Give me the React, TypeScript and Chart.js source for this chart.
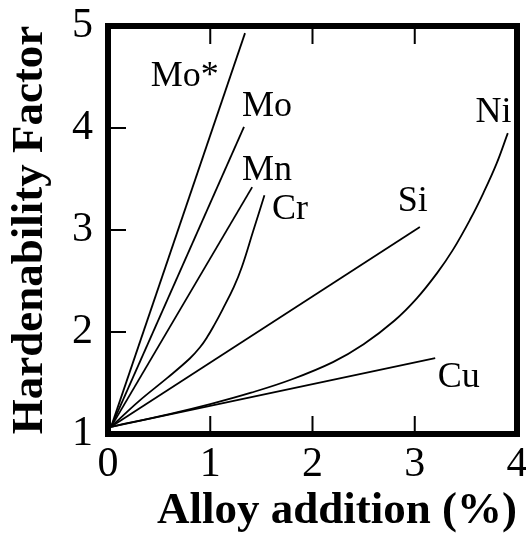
import { useEffect, useRef } from "react";
import { Chart, registerables } from "chart.js";

Chart.register(...registerables);

// Axis ticks
const xTicks = [0, 1, 2, 3, 4];
const xTickLabels = ["0", "1", "2", "3", "4"];
const yTicks = [1, 2, 3, 4, 5];
const yTickLabels = ["1", "2", "3", "4", "5"];

// Series (alloy addition %, hardenability factor)
const moStarX = [0.03, 1.34];
const moStarY = [1.07, 4.93];
const moX = [0.03, 1.33];
const moY = [1.07, 4.01];
const mnX = [0.03, 1.41];
const mnY = [1.07, 3.42];
const crX = [0.03, 0.3, 0.58, 0.8, 0.9, 0.97, 1.04, 1.12, 1.23, 1.31, 1.42, 1.53];
const crY = [1.07, 1.32, 1.55, 1.74, 1.85, 1.95, 2.07, 2.22, 2.44, 2.64, 2.99, 3.34];
const siX = [0.03, 3.05];
const siY = [1.07, 3.03];
const niX = [0.03, 0.6, 1.0, 1.4, 1.8, 2.2, 2.5, 2.8, 3.02, 3.22, 3.37, 3.54, 3.67, 3.8, 3.91];
const niY = [1.07, 1.195, 1.293, 1.405, 1.537, 1.705, 1.88, 2.11, 2.33, 2.58, 2.8, 3.1, 3.36, 3.65, 3.95];
const cuX = [0.03, 3.2];
const cuY = [1.07, 1.745];

// Curve names and where they are written (data units)
const seriesNames = ["Mo*", "Mo", "Mn", "Cr", "Si", "Ni", "Cu"];
const labelX = [0.75, 1.555, 1.555, 1.78, 2.98, 3.77, 3.43];
const labelY = [4.5, 4.21, 3.58, 3.2, 3.28, 4.15, 1.55];

const innerXTicks = [1, 2, 3];
const innerYTicks = [2, 3, 4];

const SERIF = '"Liberation Serif", "Times New Roman", serif';

const pts = (xs: number[], ys: number[]) => xs.map((x, i) => ({ x, y: ys[i] }));

const framePlugin = {
  id: "frameAndLabels",
  afterDatasetsDraw(chart: any) {
    const { ctx, chartArea: a, scales } = chart;
    const x = scales.x;
    const y = scales.y;
    ctx.save();
    ctx.strokeStyle = "#000";
    ctx.lineWidth = 2;
    ctx.beginPath();
    innerXTicks.forEach((v) => {
      const px = x.getPixelForValue(v);
      ctx.moveTo(px, a.bottom);
      ctx.lineTo(px, a.bottom - 18);
      ctx.moveTo(px, a.top);
      ctx.lineTo(px, a.top + 18);
    });
    innerYTicks.forEach((v) => {
      const py = y.getPixelForValue(v);
      ctx.moveTo(a.left, py);
      ctx.lineTo(a.left + 18, py);
    });
    ctx.stroke();
    ctx.lineWidth = 6;
    ctx.strokeRect(a.left, a.top, a.right - a.left, a.bottom - a.top);

    ctx.fillStyle = "#000";
    ctx.font = `36px ${SERIF}`;
    ctx.textAlign = "center";
    ctx.textBaseline = "middle";
    seriesNames.forEach((n, i) => {
      ctx.fillText(n, x.getPixelForValue(labelX[i]), y.getPixelForValue(labelY[i]));
    });
    ctx.restore();
  },
};

export default function App() {
  const ref = useRef<HTMLCanvasElement | null>(null);

  useEffect(() => {
    if (!ref.current) return;
    const line = (xs: number[], ys: number[], curved: boolean) => ({
      data: pts(xs, ys),
      borderColor: "#000",
      borderWidth: 1.8,
      pointRadius: 0,
      fill: false,
      cubicInterpolationMode: "default" as const,
      tension: curved ? 0.4 : 0,
    });
    const chart = new Chart(ref.current, {
      type: "line",
      data: {
        datasets: [
          { label: "Mo*", ...line(moStarX, moStarY, false) },
          { label: "Mo", ...line(moX, moY, false) },
          { label: "Mn", ...line(mnX, mnY, false) },
          { label: "Cr", ...line(crX, crY, true) },
          { label: "Si", ...line(siX, siY, false) },
          { label: "Ni", ...line(niX, niY, true) },
          { label: "Cu", ...line(cuX, cuY, false) },
        ],
      },
      options: {
        animation: false,
        responsive: false,
        layout: { padding: { top: 26, right: 9, left: 0, bottom: 0 } },
        plugins: { legend: { display: false }, tooltip: { enabled: false } },
        scales: {
          x: {
            type: "linear",
            min: 0,
            max: 4,
            grid: { display: false, drawTicks: false },
            border: { display: false },
            afterBuildTicks: (s: any) => {
              s.ticks = xTicks.map((v) => ({ value: v }));
            },
            ticks: {
              autoSkip: false,
              maxRotation: 0,
              padding: 6,
              color: "#000",
              font: { family: SERIF, size: 42 },
              callback: (v: any) => xTickLabels[xTicks.indexOf(Number(v))],
            },
            title: {
              display: true,
              text: "Alloy addition (%)",
              align: "end",
              color: "#000",
              font: { family: SERIF, size: 45, weight: "bold" },
              padding: { top: 0, bottom: 0 },
            },
            afterFit: (s: any) => {
              s.height = 104;
              s.paddingLeft = 0;
              s.paddingRight = 0;
            },
          },
          y: {
            type: "linear",
            min: 1,
            max: 5,
            grid: { display: false, drawTicks: false },
            border: { display: false },
            afterBuildTicks: (s: any) => {
              s.ticks = yTicks.map((v) => ({ value: v }));
            },
            ticks: {
              autoSkip: false,
              padding: 15,
              color: "#000",
              font: { family: SERIF, size: 42 },
              callback: (v: any) => yTickLabels[yTicks.indexOf(Number(v))],
            },
            title: {
              display: true,
              text: "Hardenability Factor",
              align: "center",
              color: "#000",
              font: { family: SERIF, size: 45, weight: "bold" },
              padding: { top: 3, bottom: 0 },
            },
            afterFit: (s: any) => {
              s.width = 108;
              s.paddingTop = 0;
              s.paddingBottom = 0;
            },
          },
        },
      },
      plugins: [framePlugin],
    } as any);
    return () => chart.destroy();
  }, []);

  return (
    <div style={{ position: "absolute", left: 0, top: 0, width: 526, height: 538, background: "#fff" }}>
      <canvas ref={ref} width={526} height={538} />
    </div>
  );
}
